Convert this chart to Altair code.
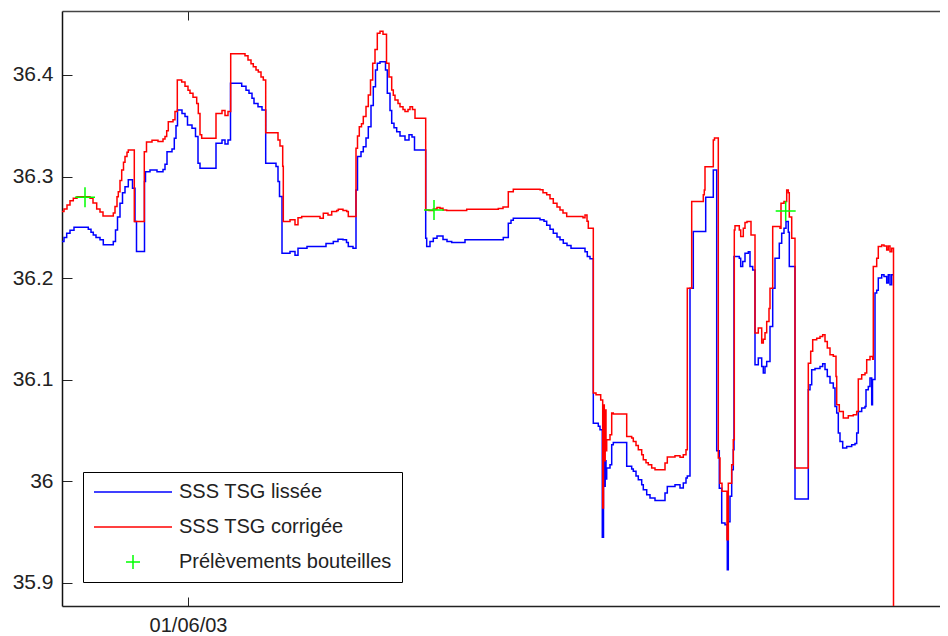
import altair as alt
import pandas as pd

# Time axis: days since 01/06/03 00:00 ; salinity (SSS, psu)
blue_t = [-1.260, -1.240, -1.213, -1.180, -1.140, -0.997, -0.970, -0.947, -0.920, -0.880,
          -0.847, -0.747, -0.725, -0.705, -0.680, -0.655, -0.630, -0.597, -0.555, -0.530,
          -0.515, -0.435, -0.425, -0.380, -0.310, -0.250, -0.230, -0.210, -0.160, -0.137,
          -0.120, -0.105, -0.060, -0.030, -0.005, 0.040, 0.075, 0.100, 0.120, 0.280,
          0.340, 0.370, 0.400, 0.425, 0.537, 0.580, 0.610, 0.640, 0.660, 0.700,
          0.740, 0.777, 0.880, 0.900, 0.915, 0.940, 1.020, 1.070, 1.100, 1.190,
          1.380, 1.453, 1.500, 1.550, 1.585, 1.603, 1.650, 1.680, 1.695, 1.730,
          1.753, 1.780, 1.803, 1.830, 1.853, 1.875, 1.893, 1.920, 1.975, 1.993,
          2.020, 2.037, 2.060, 2.087, 2.120, 2.170, 2.210, 2.240, 2.265, 2.377,
          2.387, 2.420, 2.453, 2.490, 2.550, 2.590, 2.637, 2.770, 3.153, 3.203,
          3.230, 3.253, 3.520, 3.560, 3.587, 3.620, 3.653, 3.690, 3.720, 3.753,
          3.790, 3.830, 3.970, 3.993, 4.020, 4.053, 4.103, 4.120, 4.143, 4.155,
          4.163, 4.172, 4.180, 4.187, 4.220, 4.237, 4.253, 4.387, 4.437, 4.453,
          4.480, 4.503, 4.537, 4.553, 4.587, 4.620, 4.670, 4.770, 4.793, 4.870,
          4.920, 4.953, 4.980, 4.993, 5.020, 5.053, 5.177, 5.253, 5.287, 5.313,
          5.337, 5.370, 5.393, 5.403, 5.420, 5.437, 5.453, 5.460, 5.513, 5.527,
          5.547, 5.570, 5.603, 5.620, 5.647, 5.670, 5.703, 5.737, 5.753, 5.770,
          5.787, 5.820, 5.847, 5.870, 5.913, 5.937, 5.960, 5.980, 6.003, 6.013,
          6.070, 6.203, 6.220, 6.237, 6.270, 6.320, 6.347, 6.370, 6.393, 6.420,
          6.453, 6.470, 6.487, 6.503, 6.520, 6.547, 6.587, 6.637, 6.670, 6.687,
          6.703, 6.737, 6.770, 6.780, 6.803, 6.820, 6.837, 6.845, 6.870, 6.887,
          6.903, 6.937, 6.960, 6.987, 7.003, 7.020, 7.037, 7.050]
blue_s = [36.236, 36.240, 36.244, 36.247, 36.250, 36.248, 36.245, 36.2425, 36.240, 36.2376,
          36.2327, 36.236, 36.2474, 36.260, 36.2737, 36.284, 36.290, 36.2967, 36.2885, 36.2556,
          36.2261, 36.295, 36.3048, 36.3065, 36.3048, 36.307, 36.312, 36.3245, 36.327, 36.3377,
          36.350, 36.3656, 36.362, 36.359, 36.3508, 36.3475, 36.3393, 36.3131, 36.3082, 36.3327,
          36.336, 36.332, 36.336, 36.3918, 36.389, 36.385, 36.382, 36.377, 36.372, 36.3688,
          36.3656, 36.3131, 36.3098, 36.295, 36.2802, 36.2245, 36.2261, 36.2225, 36.2294, 36.231,
          36.234, 36.236, 36.2383, 36.2376, 36.235, 36.231, 36.2294, 36.2868, 36.3196, 36.3245,
          36.3294, 36.338, 36.349, 36.370, 36.3885, 36.405, 36.4115, 36.4131, 36.405, 36.382,
          36.365, 36.3525, 36.348, 36.3442, 36.340, 36.336, 36.341, 36.339, 36.3262, 36.2393,
          36.231, 36.236, 36.2393, 36.2415, 36.238, 36.236, 36.235, 36.2376, 36.240, 36.254,
          36.257, 36.259, 36.2573, 36.256, 36.252, 36.248, 36.2442, 36.2405, 36.2376, 36.2343,
          36.232, 36.2294, 36.226, 36.2212, 36.219, 36.0571, 36.054, 36.0506, 35.9446, 36.020,
          35.995, 36.020, 36.002, 36.0129, 36.0161, 36.0358, 36.0381, 36.0146, 36.012, 36.0096,
          36.005, 36.0014, 35.9965, 35.9915, 35.9866, 35.9834, 35.981, 35.9883, 35.9948, 35.9965,
          35.9932, 35.9981, 36.003, 36.005, 36.190, 36.2458, 36.2796, 36.3065, 36.030, 35.993,
          35.9587, 35.957, 35.9128, 35.960, 35.985, 36.0112, 36.0309, 36.2212, 36.2196, 36.2114,
          36.2163, 36.2245, 36.226, 36.2114, 36.208, 36.1146, 36.1213, 36.113, 36.1064, 36.113,
          36.1178, 36.1523, 36.190, 36.2196, 36.2343, 36.2442, 36.2491, 36.2556, 36.245, 36.2114,
          35.9824, 36.090, 36.095, 36.1097, 36.111, 36.113, 36.1156, 36.110, 36.1031, 36.0966,
          36.0917, 36.0736, 36.067, 36.0473, 36.0391, 36.0326, 36.034, 36.0358, 36.037, 36.0473,
          36.0686, 36.0719, 36.0736, 36.090, 36.0933, 36.1015, 36.0752, 36.100, 36.1852, 36.188,
          36.200, 36.2032, 36.2016, 36.195, 36.2032, 36.1933, 36.2032, 36.2032]

red_t = [-1.260, -1.240, -1.210, -1.180, -1.147, -1.110, -0.980, -0.950, -0.913, -0.880,
         -0.850, -0.747, -0.730, -0.710, -0.697, -0.680, -0.663, -0.645, -0.630, -0.610,
         -0.597, -0.537, -0.437, -0.415, -0.360, -0.300, -0.250, -0.230, -0.213, -0.197,
         -0.150, -0.130, -0.107, -0.063, -0.030, 0.000, 0.020, 0.050, 0.087, 0.103,
         0.120, 0.137, 0.280, 0.340, 0.370, 0.400, 0.427, 0.570, 0.600, 0.630,
         0.653, 0.680, 0.703, 0.730, 0.753, 0.777, 0.900, 0.920, 0.947, 0.953,
         1.020, 1.070, 1.100, 1.137, 1.320, 1.353, 1.400, 1.437, 1.487, 1.503,
         1.550, 1.587, 1.603, 1.680, 1.695, 1.713, 1.735, 1.753, 1.780, 1.803,
         1.825, 1.847, 1.870, 1.893, 1.920, 1.950, 1.985, 2.010, 2.037, 2.053,
         2.070, 2.100, 2.120, 2.150, 2.170, 2.200, 2.220, 2.245, 2.270, 2.377,
         2.410, 2.453, 2.490, 2.520, 2.550, 2.587, 2.787, 3.103, 3.150, 3.203,
         3.253, 3.520, 3.550, 3.587, 3.620, 3.653, 3.690, 3.720, 3.750, 3.787,
         3.950, 3.970, 3.990, 4.003, 4.053, 4.080, 4.127, 4.147, 4.155, 4.163,
         4.172, 4.180, 4.187, 4.220, 4.237, 4.253, 4.387, 4.437, 4.453, 4.480,
         4.503, 4.537, 4.553, 4.580, 4.603, 4.637, 4.670, 4.770, 4.793, 4.870,
         4.920, 4.953, 4.980, 4.993, 5.037, 5.153, 5.163, 5.170, 5.253, 5.265,
         5.303, 5.320, 5.340, 5.390, 5.403, 5.437, 5.453, 5.463, 5.470, 5.513,
         5.527, 5.553, 5.570, 5.590, 5.630, 5.670, 5.703, 5.737, 5.753, 5.770,
         5.787, 5.810, 5.820, 5.847, 5.920, 5.930, 5.960, 5.987, 6.003, 6.013,
         6.037, 6.070, 6.203, 6.227, 6.247, 6.287, 6.320, 6.347, 6.370, 6.393,
         6.420, 6.453, 6.480, 6.487, 6.513, 6.553, 6.603, 6.653, 6.687, 6.703,
         6.737, 6.770, 6.787, 6.820, 6.847, 6.853, 6.887, 6.903, 6.937, 6.960,
         6.987, 7.003, 7.020, 7.037, 7.055]
red_s = [36.2655, 36.268, 36.272, 36.276, 36.2786, 36.280, 36.2786, 36.274, 36.268, 36.265,
         36.261, 36.264, 36.2704, 36.280, 36.285, 36.296, 36.3065, 36.314, 36.3196, 36.324,
         36.326, 36.2556, 36.3245, 36.334, 36.3357, 36.3345, 36.337, 36.3393, 36.345, 36.354,
         36.356, 36.364, 36.395, 36.393, 36.389, 36.385, 36.382, 36.378, 36.372, 36.362,
         36.341, 36.3377, 36.362, 36.365, 36.360, 36.364, 36.421, 36.419, 36.4148, 36.411,
         36.408, 36.405, 36.403, 36.398, 36.395, 36.343, 36.336, 36.330, 36.310, 36.2556,
         36.2573, 36.2524, 36.2595, 36.2606, 36.259, 36.2639, 36.262, 36.2655, 36.2665, 36.2678,
         36.2665, 36.2655, 36.2606, 36.3278, 36.340, 36.349, 36.352, 36.359, 36.369, 36.3803,
         36.395, 36.4115, 36.425, 36.441, 36.443, 36.440, 36.4115, 36.398, 36.3852, 36.380,
         36.3754, 36.372, 36.3688, 36.366, 36.3639, 36.366, 36.3688, 36.366, 36.3574, 36.2671,
         36.2665, 36.268, 36.2695, 36.2688, 36.267, 36.2665, 36.2678, 36.2685, 36.270, 36.2851,
         36.2875, 36.287, 36.284, 36.282, 36.278, 36.2737, 36.270, 36.2671, 36.264, 36.2606,
         36.2595, 36.262, 36.256, 36.2491, 36.0867, 36.085, 36.080, 35.9735, 36.075, 36.020,
         36.070, 36.030, 36.0407, 36.0457, 36.067, 36.066, 36.044, 36.0425, 36.0391, 36.035,
         36.0309, 36.026, 36.0211, 36.018, 36.0161, 36.0129, 36.0112, 36.0178, 36.0238, 36.025,
         36.0235, 36.026, 36.0309, 36.190, 36.2753, 36.282, 36.2868, 36.3097, 36.336, 36.338,
         36.0227, 35.998, 35.990, 35.9423, 35.998, 36.0161, 36.0407, 36.2474, 36.2514, 36.2474,
         36.2409, 36.2491, 36.2547, 36.2556, 36.2425, 36.1458, 36.1507, 36.136, 36.1398, 36.146,
         36.1572, 36.170, 36.190, 36.2507, 36.249, 36.2737, 36.2755, 36.2868, 36.284, 36.260,
         36.2393, 36.0129, 36.1162, 36.128, 36.1392, 36.1408, 36.1425, 36.1441, 36.1375, 36.131,
         36.1244, 36.123, 36.1031, 36.0752, 36.0686, 36.0621, 36.0644, 36.0654, 36.0686, 36.1005,
         36.1047, 36.1064, 36.1195, 36.1228, 36.120, 36.2114, 36.2196, 36.231, 36.2326, 36.2316,
         36.2277, 36.2316, 36.226, 36.2293, 35.800]

bottle_t = [-1.030, 2.460, 5.977]
bottle_s = [36.2796, 36.2671, 36.2660]

series_names = ["SSS TSG lissée", "SSS TSG corrigée", "Prélèvements bouteilles"]
series_colors = ["#0000ff", "#ff0000", "#00ff00"]
legend_shapes = ["M-1,0L1,0", "M-1,0L1,0", "M-0.18,0L0.18,0M0,-0.18L0,0.18"]

y_ticks = [35.9, 36.0, 36.1, 36.2, 36.3, 36.4]
x_tick_values = [0.0]
x_tick_labels = ["01/06/03"]

x_domain = [-1.26, 7.52]
y_domain = [35.877, 36.463]

FONT = "Liberation Sans"

df_blue = pd.DataFrame({"t": blue_t, "s": blue_s})
df_red = pd.DataFrame({"t": red_t, "s": red_s})
df_bottle = pd.DataFrame({"t": bottle_t, "s": bottle_s,
                          "serie": [series_names[2]] * len(bottle_t)})

xscale = alt.Scale(domain=x_domain, nice=False, zero=False)
yscale = alt.Scale(domain=y_domain, nice=False, zero=False)

x_label_expr = "".join(
    f"datum.value == {v} ? '{l}' : " for v, l in zip(x_tick_values, x_tick_labels)
) + "''"

tick_style = dict(grid=False, domain=False, tickColor="#222", tickWidth=1,
                  labelFont=FONT, labelColor="#222", title=None)
line_style = dict(grid=False, domain=True, ticks=False, labels=False, title=None,
                  domainWidth=1.5, offset=0)

# inward ticks (MATLAB style)
x_bottom = alt.Axis(orient="bottom", values=x_tick_values, labelExpr=x_label_expr,
                    offset=-9, tickSize=9, labelPadding=9, labelFontSize=20, **tick_style)
y_left = alt.Axis(orient="left", values=y_ticks, format=".1~f", offset=-10, tickSize=10,
                  labelPadding=9, labelFontSize=21, **tick_style)
x_top = alt.Axis(orient="top", values=x_tick_values, labels=False, offset=-9, tickSize=9,
                 **tick_style)
# box lines
y_left_line = alt.Axis(orient="left", domainColor="#111", **line_style)
x_bottom_line = alt.Axis(orient="bottom", domainColor="#222", **line_style)
x_top_line = alt.Axis(orient="top", domainColor="#444", **line_style)

blue = alt.Chart(df_blue).mark_line(
    color=series_colors[0], strokeWidth=1.5, interpolate="step-after", clip=True
).encode(
    x=alt.X("t:Q", scale=xscale, axis=x_bottom),
    y=alt.Y("s:Q", scale=yscale, axis=y_left),
)

red = alt.Chart(df_red).mark_line(
    color=series_colors[1], strokeWidth=1.5, interpolate="step-after", clip=True
).encode(
    x=alt.X("t:Q", scale=xscale, axis=x_top),
    y=alt.Y("s:Q", scale=yscale, axis=y_left_line),
)

legend = alt.Legend(
    title=None, orient="none", legendX=21, legendY=461, padding=10,
    strokeColor="#000", fillColor="#ffffff",
    labelFont=FONT, labelFontSize=20, labelColor="#222", labelOffset=6, labelLimit=0,
    symbolSize=6084, symbolStrokeWidth=1.5, rowPadding=15, symbolOpacity=1,
    clipHeight=20,
)

bottles = alt.Chart(df_bottle).mark_point(
    filled=False, size=12346, strokeWidth=1.5, opacity=1, clip=True
).encode(
    x=alt.X("t:Q", scale=xscale, axis=x_bottom_line),
    y=alt.Y("s:Q", scale=yscale, axis=None),
    color=alt.Color("serie:N", scale=alt.Scale(domain=series_names, range=series_colors),
                    legend=legend),
    shape=alt.Shape("serie:N", scale=alt.Scale(domain=series_names, range=legend_shapes),
                    legend=legend),
)

# transparent copy used only to carry the top border line
top_frame = alt.Chart(df_bottle).mark_point(opacity=0).encode(
    x=alt.X("t:Q", scale=xscale, axis=x_top_line),
    y=alt.Y("s:Q", scale=yscale, axis=None),
)

chart = alt.layer(blue, red, bottles, top_frame).resolve_axis(
    x="independent", y="independent"
).properties(
    width=878, height=595,
    autosize=alt.AutoSizeParams(type="none"),
    padding={"left": 54, "top": 3, "right": 0, "bottom": 30},
    background="white",
).configure_view(stroke=None)

chart.save("out.html", embed_options={"renderer": "svg", "actions": False})
